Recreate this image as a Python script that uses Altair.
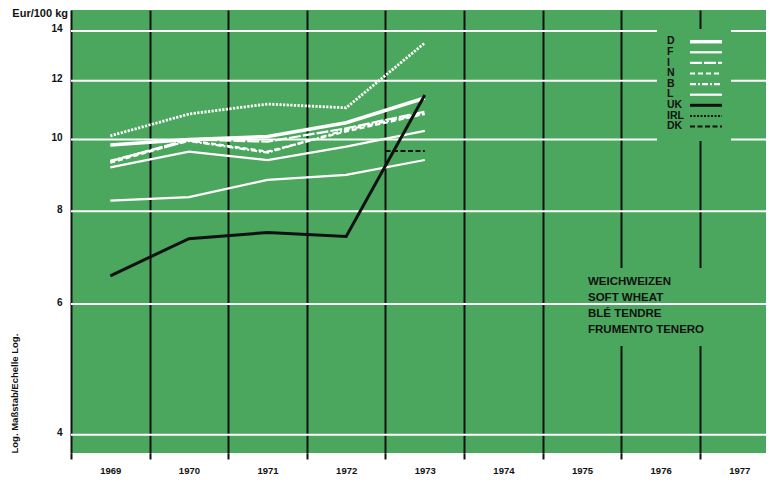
import altair as alt
import pandas as pd

# ---- data (Eur/100 kg) ----
years = [1969, 1970, 1971, 1972, 1973]
D = [9.83, 10.00, 10.09, 10.53, 11.37]
F = [9.17, 9.63, 9.38, 9.78, 10.27]
I = [9.34, 10.00, 9.93, 10.35, 10.90]
N = [9.30, 9.97, 9.63, 10.25, 10.82]
B = [9.36, 9.95, 9.60, 10.30, 10.85]
L = [8.27, 8.36, 8.82, 8.96, 9.38]
UK = [6.55, 7.35, 7.49, 7.40, 11.48]
IRL = [10.11, 10.82, 11.16, 11.03, 13.49]
DK_years = [1972.5, 1973]
DK = [9.65, 9.65]

axis_years = list(range(1969, 1978))
y_ticks = [4, 6, 8, 10, 12, 14]
names = ["D", "F", "I", "N", "B", "L", "UK", "IRL", "DK"]
block_lines = ["WEICHWEIZEN", "SOFT WHEAT", "BLÉ TENDRE", "FRUMENTO TENERO"]
unit_label = "Eur/100 kg"
axis_title = "Log. Maßstab/Echelle Log."

# ---- styles ----
GREEN = "#4aa75d"
FONT = "Liberation Sans"
style = {
    "D": dict(color="white", strokeWidth=3.5),
    "F": dict(color="white", strokeWidth=2.2),
    "I": dict(color="white", strokeWidth=2.2, strokeDash=[12, 2]),
    "N": dict(color="white", strokeWidth=2.2, strokeDash=[5, 3]),
    "B": dict(color="white", strokeWidth=2.2, strokeDash=[6, 2, 2, 2]),
    "L": dict(color="white", strokeWidth=2.2),
    "UK": dict(color="#111111", strokeWidth=3),
    "IRL": dict(color="white", strokeWidth=2.8, strokeDash=[2.2, 1.4]),
    "DK": dict(color="#111111", strokeWidth=2, strokeDash=[5, 2.5]),
}
legend_style = dict(style)
legend_style["IRL"] = dict(color="#111111", strokeWidth=2, strokeDash=[2, 1.5])

W, H = 695, 443
PAD_L, PAD_T, PAD_B = 63, 2, 25
X_END = 1977.34
series = {"D": D, "F": F, "I": I, "N": N, "B": B, "L": L, "UK": UK, "IRL": IRL}
rows = []
for k, vals in series.items():
    for yr, v in zip(years, vals):
        rows.append({"name": k, "year": yr, "value": v})
for yr, v in zip(DK_years, DK):
    rows.append({"name": "DK", "year": yr, "value": v})
df = pd.DataFrame(rows)

xscale = alt.Scale(domain=[1968.5, X_END], nice=False, zero=False)
yscale = alt.Scale(type="log", domain=[3.78, 14.94], nice=False, zero=False)
band = W / (X_END - 1968.5)

xaxis = alt.Axis(
    values=[y - 0.5 for y in axis_years],
    labelExpr="toString(datum.value + 0.5)",
    labelOffset=band / 2,
    labelFlush=False,
    labelOverlap=False,
    grid=True, gridColor="#111111", gridWidth=2, gridOpacity=1,
    domain=False, ticks=True, tickColor="#111111", tickWidth=2, tickSize=6,
    labelPadding=6, labelFont=FONT, labelFontWeight="bold", labelFontSize=9.5,
    labelColor="#111111", title=None,
)
yaxis = alt.Axis(
    values=y_ticks, grid=False, domain=False, ticks=False,
    labelPadding=9, labelFont=FONT, labelFontWeight="bold", labelFontSize=10,
    labelColor="#111111", labelBaseline="middle", labelOffset=-2,
    title=axis_title, titleAnchor="start", titleFont=FONT, titleFontWeight="bold",
    titleFontSize=9.5, titleColor="#111111", titlePadding=31,
)
X = alt.X("year:Q", scale=xscale, axis=xaxis)

one = pd.DataFrame({"k": [0]})
layers = []

# green patch behind the text block (interrupts the vertical lines)
layers.append(
    alt.Chart(one).mark_rect(color=GREEN).encode(
        x=alt.value(512), x2=alt.value(641), y=alt.value(258), y2=alt.value(336)
    )
)
# horizontal white grid lines
layers.append(
    alt.Chart(pd.DataFrame({"v": y_ticks})).mark_rule(color="white", strokeWidth=2).encode(
        y=alt.Y("v:Q", scale=yscale, axis=yaxis)
    )
)
# data lines
for k in names:
    layers.append(
        alt.Chart(df).transform_filter(alt.datum.name == k).mark_line(**style[k]).encode(
            x=X, y=alt.Y("value:Q", scale=yscale, axis=yaxis)
        )
    )
# legend
layers.append(
    alt.Chart(one).mark_rect(color=GREEN).encode(
        x=alt.value(586), x2=alt.value(660), y=alt.value(19), y2=alt.value(131)
    )
)
row0, rstep = 31.7, 10.6
for i, k in enumerate(names):
    layers.append(
        alt.Chart(one).mark_rule(**legend_style[k]).encode(
            x=alt.value(619), x2=alt.value(651), y=alt.value(row0 + i * rstep)
        )
    )
layers.append(
    alt.Chart(one).mark_text(
        align="left", baseline="top", font=FONT, fontWeight="bold", fontSize=10.5,
        lineHeight=rstep, color="#111111", lineBreak="\n",
    ).encode(x=alt.value(596), y=alt.value(row0 - 5.3), text=alt.value("\n".join(names)))
)
# text block
layers.append(
    alt.Chart(one).mark_text(
        align="left", baseline="top", font=FONT, fontWeight="bold", fontSize=11.5,
        lineHeight=16, color="#111111", lineBreak="\n",
    ).encode(x=alt.value(517), y=alt.value(266), text=alt.value("\n".join(block_lines)))
)
# unit label
layers.append(
    alt.Chart(one).mark_text(
        align="right", baseline="middle", font=FONT, fontWeight="bold", fontSize=11,
        color="#111111",
    ).encode(x=alt.value(-3), y=alt.value(4), text=alt.value(unit_label))
)

chart = alt.layer(*layers).properties(
    width=W, height=H,
    autosize=alt.AutoSizeParams(type="none"),
    padding={"left": PAD_L, "top": PAD_T, "right": 0, "bottom": PAD_B},
).configure(
    background="white", view=alt.ViewConfig(fill=GREEN, stroke=None)
)

chart.save("out.html", embed_options={"renderer": "svg", "actions": False})
